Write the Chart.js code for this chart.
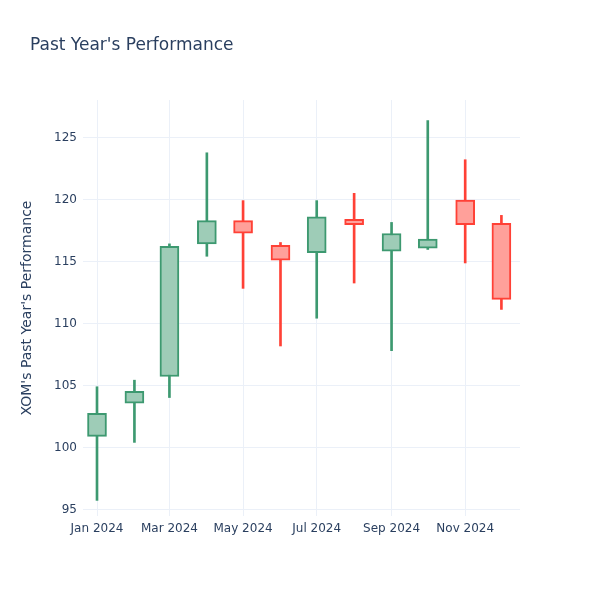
<!DOCTYPE html>
<html>
<head>
<meta charset="utf-8">
<script src="https://cdn.jsdelivr.net/npm/chart.js@4"></script>
<style>
  html, body { margin: 0; padding: 0; background: #fff; }
  #wrap { width: 600px; height: 600px; }
</style>
</head>
<body>
<div id="wrap"><canvas id="myChart" width="600" height="600"></canvas></div>
<script>
// months of 2024, as day offset from Jan 1
const months = ["Jan", "Feb", "Mar", "Apr", "May", "Jun", "Jul", "Aug", "Sep", "Oct", "Nov", "Dec"];
const monthDays = [0, 31, 60, 91, 121, 152, 182, 213, 244, 274, 305, 335];

// OHLC
const opens  = [100.89, 103.57, 105.73, 116.43, 118.30, 116.32, 115.73, 118.41, 115.84, 116.08, 119.97, 118.08];
const highs  = [104.90, 105.43, 116.43, 123.78, 119.92, 116.54, 119.92, 120.51, 118.16, 126.38, 123.22, 118.73];
const lows   = [95.73, 100.41, 104.03, 115.43, 112.84, 108.19, 110.43, 113.27, 107.81, 115.98, 114.89, 111.14];
const closes = [102.76, 104.54, 116.24, 118.30, 117.30, 115.11, 118.62, 117.97, 117.27, 116.81, 117.97, 111.95];

const tickDays = [0, 60, 121, 182, 244, 305];
const tickLabels = ["Jan 2024", "Mar 2024", "May 2024", "Jul 2024", "Sep 2024", "Nov 2024"];

const upLine = "#3D9970", downLine = "#FF4136";
const upFill = "#9ECCB7", downFill = "#FFA09A";

const isUp = opens.map((o, i) => closes[i] >= o);
const textColor = "#2a3f5f";
const gridColor = "#EBF0F8";
const font = "DejaVu Sans";

const titlePlugin = {
  id: "plotTitle",
  afterDraw(chart) {
    const ctx = chart.ctx;
    ctx.save();
    ctx.font = "17px '" + font + "'";
    ctx.fillStyle = textColor;
    ctx.textBaseline = "middle";
    ctx.fillText("Past Year's Performance", 30, 46);
    ctx.restore();
  }
};

const ctx = document.getElementById("myChart").getContext("2d");
new Chart(ctx, {
  type: "bar",
  data: {
    datasets: [
      {
        // boxes
        data: monthDays.map((d, i) => ({ x: d, y: [opens[i], closes[i]] })),
        backgroundColor: isUp.map(u => u ? upFill : downFill),
        borderColor: isUp.map(u => u ? upLine : downLine),
        borderWidth: 2,
        borderSkipped: false,
        barThickness: 19,
        grouped: false,
        order: 0
      },
      {
        // wicks
        data: monthDays.map((d, i) => ({ x: d, y: [lows[i], highs[i]] })),
        backgroundColor: isUp.map(u => u ? upLine : downLine),
        borderWidth: 0,
        barThickness: 2,
        grouped: false,
        order: 1
      }
    ]
  },
  options: {
    responsive: false,
    animation: false,
    layout: { padding: { top: 100, left: 0, right: 80, bottom: 0 } },
    plugins: {
      legend: { display: false },
      tooltip: { enabled: false }
    },
    scales: {
      x: {
        type: "linear",
        offset: false,
        min: -11.6,
        max: 350.4,
        grid: { color: gridColor, drawTicks: false, offset: false },
        border: { display: false },
        afterBuildTicks(axis) {
          axis.ticks = tickDays.map(v => ({ value: v }));
        },
        afterFit(axis) { axis.height = 84; },
        ticks: {
          padding: 6,
          maxRotation: 0,
          autoSkip: false,
          color: textColor,
          font: { family: font, size: 12 },
          callback: (v) => tickLabels[tickDays.indexOf(v)]
        }
      },
      y: {
        min: 94.47,
        max: 128.04,
        grid: { color: gridColor, drawTicks: false },
        border: { display: false },
        afterFit(axis) { axis.width = 83; },
        ticks: {
          stepSize: 5,
          includeBounds: false,
          padding: 6,
          color: textColor,
          font: { family: font, size: 12 }
        },
        title: {
          display: true,
          text: "XOM's Past Year's Performance",
          color: textColor,
          font: { family: font, size: 14 },
          padding: { top: 19, bottom: 0 }
        }
      }
    }
  },
  plugins: [titlePlugin]
});
</script>
</body>
</html>
